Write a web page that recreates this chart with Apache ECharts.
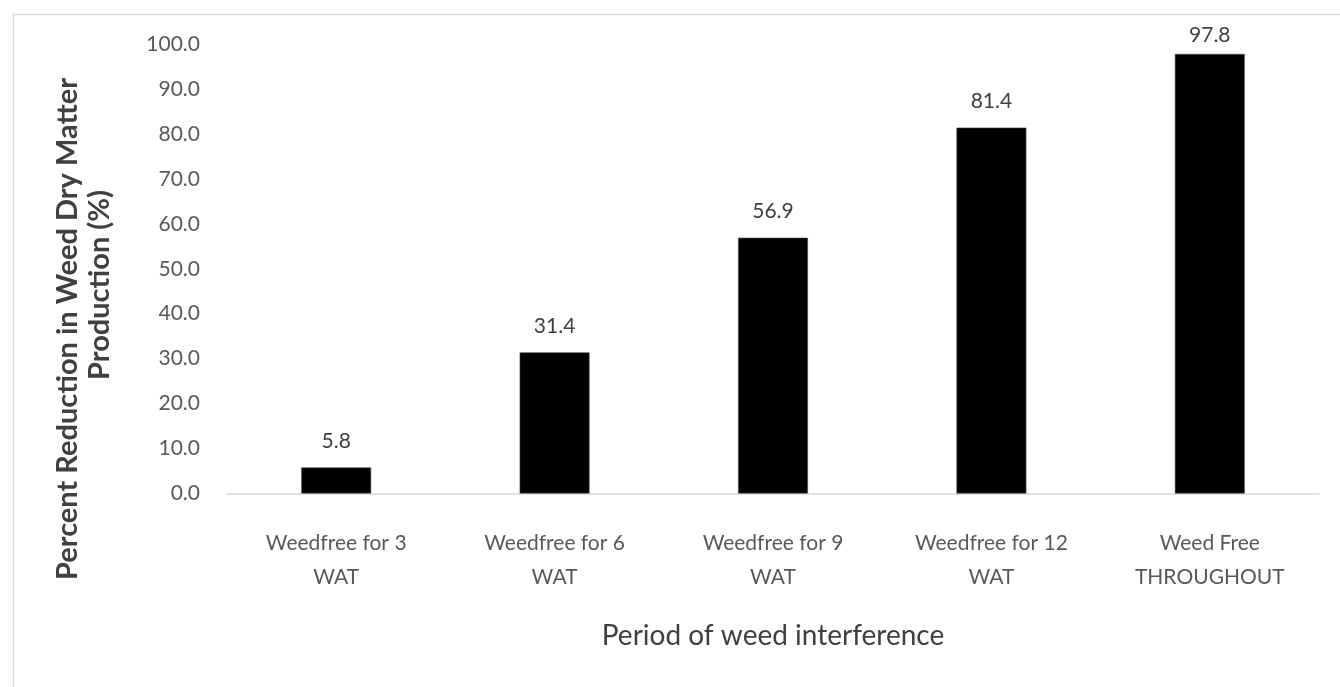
<!DOCTYPE html>
<html>
<head>
<meta charset="utf-8">
<script src="https://cdn.jsdelivr.net/npm/echarts@6/dist/echarts.min.js"></script>
<style>
  html, body { margin: 0; padding: 0; background: #ffffff; }
  #chart { width: 1340px; height: 687px; }
</style>
</head>
<body>
<div id="chart"></div>
<script>
// Weed-free periods and the resulting reduction in weed dry matter (%)
const categories = [
  'Weedfree for 3\nWAT',
  'Weedfree for 6\nWAT',
  'Weedfree for 9\nWAT',
  'Weedfree for 12\nWAT',
  'Weed Free\nTHROUGHOUT'
];
const reduction = [5.8, 31.4, 56.9, 81.4, 97.8];
const yTicks = { min: 0, max: 100, step: 10 };
const yTitleLines = ['Percent Reduction in Weed Dry Matter', 'Production (%)'];
const xTitle = 'Period of weed interference';

const FONT = 'Lato, "Open Sans", sans-serif';

const chart = echarts.init(document.getElementById('chart'), null, { renderer: 'canvas' });

// the tallest bar sits close to the top edge, so its label hugs the bar more tightly
const barData = reduction.map(v =>
  v > 95 ? { value: v, label: { distance: 8 } } : v
);

const yTitleStyle = {
  fill: '#404040',
  fontFamily: FONT,
  fontSize: 29,
  fontWeight: 'bold',
  align: 'center',
  verticalAlign: 'middle'
};

chart.setOption({
  backgroundColor: '#ffffff',
  animation: false,
  graphic: [
    {
      type: 'rect',
      left: 11,
      top: 12,
      shape: { width: 1400, height: 720 },
      style: { fill: 'none', stroke: '#d9d9d9', lineWidth: 1.5 },
      silent: true
    },
    {
      type: 'text',
      x: 68,
      y: 329,
      rotation: Math.PI / 2,
      style: Object.assign({ text: yTitleLines[0] }, yTitleStyle),
      silent: true
    },
    {
      type: 'text',
      x: 100,
      y: 285,
      rotation: Math.PI / 2,
      style: Object.assign({ text: yTitleLines[1] }, yTitleStyle),
      silent: true
    }
  ],
  grid: { left: 227, right: 21, top: 44, bottom: 193.5, containLabel: false },
  xAxis: {
    type: 'category',
    data: categories,
    axisLine: { show: true, lineStyle: { color: '#d9d9d9', width: 1.5 } },
    axisTick: { show: false },
    axisLabel: {
      color: '#595959',
      fontFamily: FONT,
      fontSize: 21,
      lineHeight: 34,
      margin: 33,
      interval: 0
    },
    name: xTitle,
    nameLocation: 'middle',
    nameGap: 128,
    nameTextStyle: { color: '#404040', fontFamily: FONT, fontSize: 28 }
  },
  yAxis: {
    type: 'value',
    min: yTicks.min,
    max: yTicks.max,
    interval: yTicks.step,
    splitLine: { show: false },
    axisLine: { show: false },
    axisTick: { show: false },
    axisLabel: {
      color: '#595959',
      fontFamily: FONT,
      fontSize: 21,
      margin: 27,
      formatter: v => v.toFixed(1)
    }
  },
  series: [{
    type: 'bar',
    data: barData,
    barWidth: '32%',
    itemStyle: { color: '#000000', borderColor: '#4a5050', borderWidth: 0.6 },
    label: {
      show: true,
      position: 'top',
      distance: 16,
      color: '#404040',
      fontFamily: FONT,
      fontSize: 21,
      formatter: p => p.value.toFixed(1)
    }
  }]
});
</script>
</body>
</html>
